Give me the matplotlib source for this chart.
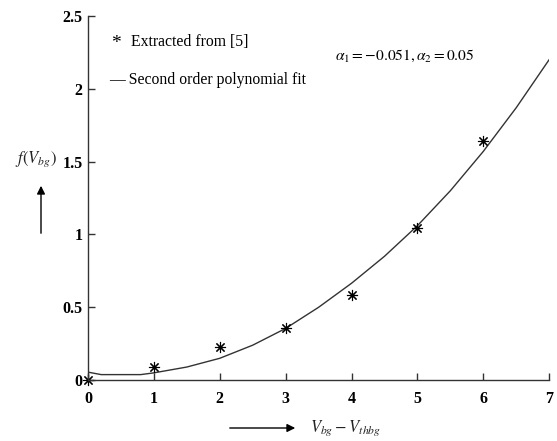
import matplotlib.pyplot as plt

plt.rcParams['font.family'] = ['Liberation Serif', 'DejaVu Serif']
plt.rcParams['mathtext.fontset'] = 'stix'

# points extracted from [5]
vx = [0, 1, 2, 3, 4, 5, 6]
fv = [0.0, 0.09, 0.23, 0.36, 0.585, 1.045, 1.64]

# second order polynomial fit
fit_x = [0, 0.2, 0.8, 1, 1.5, 2, 2.5, 3, 3.5, 4, 4.5, 5, 5.5, 6, 6.5, 7]
fit_y = [0.055, 0.038, 0.038, 0.05, 0.09, 0.15, 0.24, 0.355, 0.50, 0.665, 0.85, 1.06, 1.30, 1.57, 1.87, 2.2]

xticks = [0, 1, 2, 3, 4, 5, 6, 7]
yticks = [0, 0.5, 1, 1.5, 2, 2.5]
yticklabels = ['0', '0.5', '1', '1.5', '2', '2.5']

fig = plt.figure(figsize=(5.57, 4.41), dpi=100)
ax = fig.add_axes([0.158, 0.138, 0.828, 0.826])

ax.plot(fit_x, fit_y, '-', color='#333333', linewidth=1.0)
ax.plot(vx, fv, linestyle='none', marker=(8, 2, 0), markersize=8,
        markeredgewidth=0.8, color='black', clip_on=False)

ax.set_xlim(0, 7)
ax.set_ylim(0, 2.5)
ax.set_xticks(xticks)
ax.set_yticks(yticks)
ax.set_yticklabels(yticklabels)
for s in ['top', 'right']:
    ax.spines[s].set_visible(False)
for s in ['left', 'bottom']:
    ax.spines[s].set_color('#333333')
    ax.spines[s].set_linewidth(1.0)
ax.tick_params(direction='in', length=5, width=1, color='#333333')
ax.tick_params(axis='x', pad=8)
ax.tick_params(axis='y', pad=4)
for lab in ax.get_xticklabels() + ax.get_yticklabels():
    lab.set_fontweight('bold')
    lab.set_fontsize(11.5)

# legend-like texts
fig.text(111/557, 1 - 43/441, '*', fontsize=14, ha='left', va='center')
fig.text(131/557, 1 - 42/441, 'Extracted from [5]', fontsize=11.3, ha='left', va='center')
fig.text(109/557, 1 - 80/441, '— Second order polynomial fit', fontsize=11.3, ha='left', va='center')
fig.text(335/557, 1 - 56/441, r'$\alpha_1 = -0.051, \alpha_2 = 0.05$', fontsize=11.2, ha='left', va='center')

# axis labels with arrows
fig.text(15/557, 1 - 159/441, r'$f\left(V_{bg}\right)$', fontsize=12, ha='left', va='center', color='#222222')
fig.text(310/557, 1 - 428/441, r'$V_{bg} - V_{thbg}$', fontsize=12, ha='left', va='center', color='#222222')
ax.annotate('', xy=(41/557, 1 - 183/441), xytext=(41/557, 1 - 236/441),
            xycoords='figure fraction', textcoords='figure fraction',
            arrowprops=dict(arrowstyle='-|>', color='black', lw=1.0, mutation_scale=12),
            annotation_clip=False)
ax.annotate('', xy=(298/557, 1 - 428/441), xytext=(227/557, 1 - 428/441),
            xycoords='figure fraction', textcoords='figure fraction',
            arrowprops=dict(arrowstyle='-|>', color='black', lw=1.0, mutation_scale=12),
            annotation_clip=False)

fig.savefig('out.png', dpi=100)
